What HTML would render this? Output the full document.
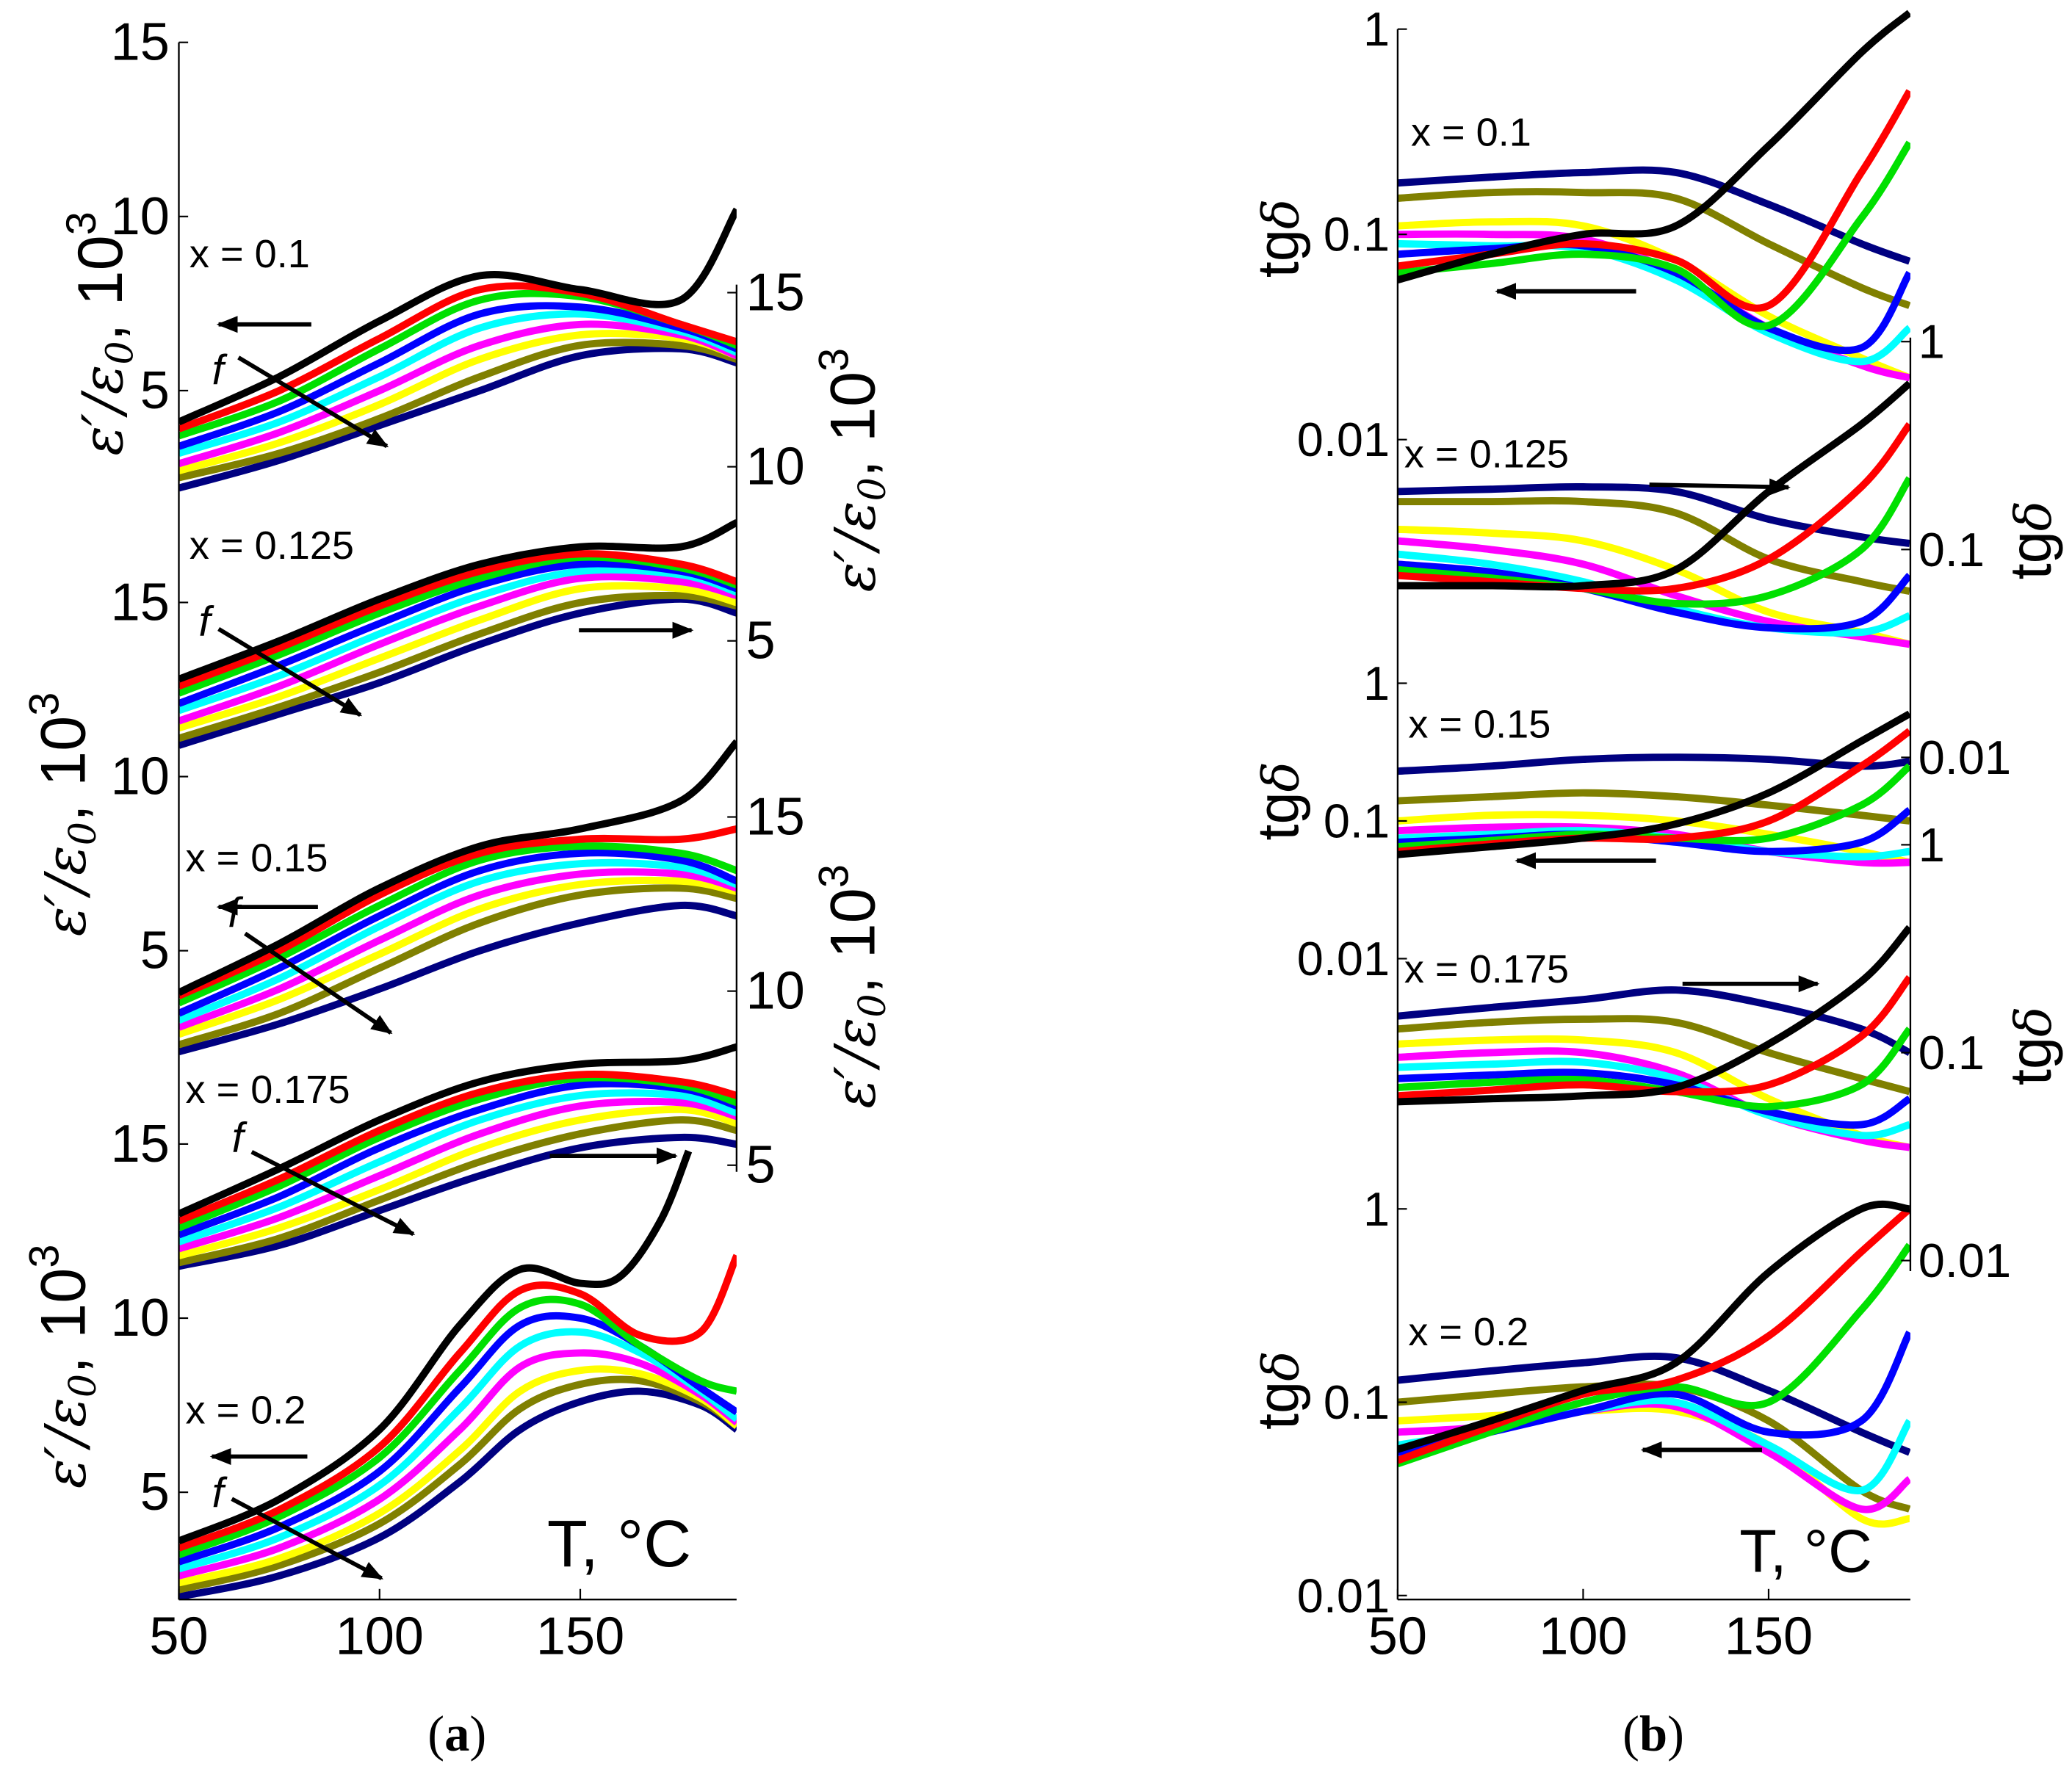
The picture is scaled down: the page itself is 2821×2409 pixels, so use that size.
<!DOCTYPE html>
<html><head><meta charset="utf-8"><style>
html,body{margin:0;padding:0;background:#fff;}
svg{display:block;}
text{font-family:"Liberation Sans Narrow","Liberation Sans",sans-serif;fill:#000;}
</style></head><body>
<svg id="fig" width="2821" height="2409" viewBox="0 0 1564 1336" preserveAspectRatio="none" xmlns="http://www.w3.org/2000/svg">
<defs>
<marker id="ah" viewBox="0 0 10 10" refX="9" refY="5" markerWidth="5" markerHeight="5" orient="auto"><path d="M0,1 L10,5 L0,9 Z" fill="#000"/></marker>
</defs>
<g id="marks"></g>
<g id="axes" stroke="#000" stroke-width="1.3" fill="none">
<line x1="135" y1="32" x2="135" y2="1208"/>
<line x1="135" y1="1208" x2="556" y2="1208"/>
<line x1="556" y1="215" x2="556" y2="885"/>
<line x1="1055" y1="22" x2="1055" y2="1208"/>
<line x1="1055" y1="1208" x2="1442" y2="1208"/>
<line x1="1442" y1="255" x2="1442" y2="960"/>
</g>
<g id="ticks" stroke="#000" stroke-width="1.2"></g>
<g id="labels"></g>
<g stroke="#000" stroke-width="3.2" marker-end="url(#ah)">
<line x1="235" y1="245" x2="165" y2="245"/>
<line x1="180" y1="270" x2="292" y2="337"/>
<line x1="165" y1="475" x2="272" y2="540"/>
<line x1="437" y1="476" x2="522" y2="476"/>
<line x1="240" y1="685" x2="165" y2="685"/>
<line x1="185" y1="705" x2="295" y2="780"/>
<line x1="190" y1="870" x2="312" y2="932"/>
<line x1="415" y1="873" x2="510" y2="873"/>
<line x1="232" y1="1100" x2="160" y2="1100"/>
<line x1="175" y1="1132" x2="288" y2="1192"/>
<line x1="1235" y1="220" x2="1130" y2="220"/>
<line x1="1245" y1="366" x2="1350" y2="368"/>
<line x1="1250" y1="650" x2="1145" y2="650"/>
<line x1="1270" y1="743" x2="1372" y2="743"/>
<line x1="1330" y1="1095" x2="1240" y2="1095"/>
</g>
<g font-size="32" font-style="italic">
<text x="160" y="290">f</text>
<text x="150" y="480">f</text>
<text x="172" y="700">f</text>
<text x="175" y="870">f</text>
<text x="160" y="1138">f</text>
</g>
<g font-size="30">
<text x="143" y="202">x = 0.1</text>
<text x="143" y="422">x = 0.125</text>
<text x="140" y="658">x = 0.15</text>
<text x="140" y="833">x = 0.175</text>
<text x="140" y="1075">x = 0.2</text>
<text x="1065" y="110">x = 0.1</text>
<text x="1060" y="353">x = 0.125</text>
<text x="1063" y="557">x = 0.15</text>
<text x="1060" y="742">x = 0.175</text>
<text x="1063" y="1016">x = 0.2</text>
</g>
<text x="413" y="1183" font-size="50">T, °C</text>
<text x="1313" y="1187" font-size="46">T, °C</text>
<text x="345" y="1322" font-size="38" text-anchor="middle" style="font-family:'Liberation Serif',serif">(<tspan font-weight="bold">a</tspan>)</text>
<text x="1248" y="1322" font-size="38" text-anchor="middle" style="font-family:'Liberation Serif',serif">(<tspan font-weight="bold">b</tspan>)</text>
</svg>
<script>
const T7=[50,75,100,125,150,175,189];
const T7b=[50,75,100,125,150,175,188];
const T5a=[50,75,100,120,135,150,165,180,189];
const T5aBlack=[50,75,100,120,135,150,160,170,177];
const a1=[[4.1,5.4,7.0,8.3,7.9,7.6,10.2],[3.9,5.0,6.5,7.9,7.8,6.9,6.4],[3.7,4.7,6.2,7.6,7.7,6.9,6.3],[3.4,4.4,5.8,7.2,7.4,6.8,6.2],[3.2,4.1,5.4,6.8,7.2,6.7,6.1],[2.9,3.8,5.0,6.3,6.9,6.6,6.0],[2.7,3.5,4.6,5.9,6.6,6.5,6.0],[2.5,3.2,4.2,5.4,6.3,6.3,5.9],[2.2,3.0,4.0,5.0,6.0,6.2,5.8]];
const a2=[[3.9,5.0,6.2,7.2,7.7,7.7,8.4],[3.7,4.8,6.0,7.0,7.5,7.2,6.7],[3.5,4.6,5.8,6.8,7.4,7.1,6.6],[3.2,4.3,5.5,6.6,7.2,7.0,6.5],[3.0,4.0,5.2,6.3,7.0,6.9,6.4],[2.7,3.7,4.9,6.0,6.8,6.7,6.3],[2.5,3.4,4.5,5.6,6.5,6.5,6.1],[2.2,3.1,4.1,5.2,6.1,6.3,6.0],[2.0,2.9,3.8,4.9,5.8,6.2,5.8]];
const a3=[[3.8,5.2,6.8,8.0,8.5,9.3,11.0],[3.7,5.0,6.6,7.8,8.2,8.2,8.5],[3.5,4.8,6.3,7.6,8.0,7.8,7.3],[3.2,4.5,6.0,7.3,7.8,7.6,7.0],[3.0,4.2,5.7,7.0,7.5,7.4,6.9],[2.8,3.9,5.3,6.6,7.2,7.2,6.8],[2.6,3.6,4.9,6.2,6.9,7.0,6.7],[2.3,3.2,4.5,5.8,6.6,6.8,6.5],[2.1,2.9,3.9,5.0,5.8,6.3,6.0]];
const a4=[[3.6,4.9,6.3,7.4,7.9,8.0,8.4],[3.4,4.6,6.0,7.1,7.6,7.4,7.0],[3.2,4.4,5.8,6.9,7.5,7.3,6.8],[3.0,4.1,5.5,6.6,7.3,7.2,6.7],[2.8,3.8,5.1,6.3,7.0,7.0,6.5],[2.6,3.5,4.7,5.9,6.7,6.8,6.4],[2.4,3.2,4.3,5.5,6.3,6.6,6.2],[2.2,2.9,4.0,5.1,5.9,6.3,6.0],[2.1,2.7,3.7,4.7,5.5,5.8,5.6]];
const a5Black=[3.6,4.8,6.8,9.8,11.4,11.0,11.2,12.8,14.8];
const a5=[null,[3.4,4.5,6.3,9.0,10.8,10.7,9.5,9.6,11.8],[3.2,4.3,6.0,8.5,10.3,10.4,9.2,8.2,7.9],[3.0,4.0,5.6,8.0,9.8,10.0,9.2,8.0,7.3],[2.8,3.7,5.2,7.4,9.2,9.6,9.0,7.9,7.1],[2.6,3.4,4.8,6.8,8.6,9.0,8.7,7.8,7.0],[2.4,3.1,4.4,6.2,7.9,8.5,8.4,7.7,6.9],[2.2,2.9,4.1,5.8,7.4,8.1,8.2,7.6,6.9],[2.0,2.6,3.7,5.3,6.8,7.6,7.9,7.5,6.8]];
const b1=[[0.06,0.08,0.1,0.11,0.27,0.77,1.2],[0.07,0.08,0.09,0.075,0.045,0.2,0.5],[0.065,0.072,0.08,0.068,0.036,0.12,0.28],[0.08,0.085,0.088,0.065,0.035,0.028,0.065],[0.09,0.088,0.085,0.06,0.033,0.024,0.035],[0.1,0.1,0.095,0.065,0.035,0.023,0.02],[0.11,0.115,0.11,0.075,0.04,0.025,0.02],[0.15,0.16,0.16,0.15,0.09,0.055,0.045],[0.178,0.19,0.2,0.2,0.14,0.09,0.074]];
const b2=[[0.067,0.067,0.067,0.08,0.19,0.4,0.63],[0.075,0.07,0.065,0.065,0.09,0.2,0.4],[0.08,0.073,0.065,0.055,0.06,0.1,0.22],[0.085,0.078,0.065,0.05,0.042,0.045,0.075],[0.095,0.085,0.07,0.052,0.042,0.04,0.048],[0.11,0.1,0.085,0.06,0.045,0.038,0.035],[0.125,0.12,0.11,0.08,0.05,0.04,0.035],[0.17,0.17,0.17,0.15,0.09,0.07,0.063],[0.19,0.195,0.2,0.19,0.14,0.115,0.107]];
const b3=[[0.057,0.065,0.075,0.095,0.16,0.38,0.6],[0.06,0.068,0.075,0.075,0.1,0.25,0.45],[0.065,0.072,0.08,0.075,0.075,0.13,0.25],[0.07,0.075,0.08,0.07,0.06,0.07,0.12],[0.075,0.08,0.085,0.075,0.06,0.055,0.06],[0.085,0.09,0.09,0.08,0.06,0.05,0.05],[0.1,0.11,0.11,0.1,0.08,0.06,0.05],[0.14,0.15,0.16,0.15,0.13,0.11,0.1],[0.23,0.25,0.28,0.29,0.28,0.25,0.27]];
const b4=[[0.058,0.06,0.062,0.068,0.11,0.22,0.4],[0.062,0.066,0.07,0.065,0.07,0.12,0.23],[0.068,0.072,0.074,0.065,0.055,0.07,0.13],[0.075,0.078,0.08,0.07,0.052,0.045,0.06],[0.085,0.088,0.09,0.075,0.05,0.04,0.045],[0.095,0.1,0.1,0.08,0.05,0.038,0.035],[0.11,0.115,0.115,0.1,0.06,0.04,0.035],[0.13,0.14,0.145,0.14,0.1,0.075,0.065],[0.15,0.165,0.18,0.2,0.17,0.13,0.1]];
const b5=[[0.057,0.08,0.115,0.16,0.47,1.0,1.0],[0.05,0.075,0.11,0.13,0.22,0.6,1.0],[0.048,0.07,0.1,0.12,0.1,0.3,0.65],[0.055,0.07,0.09,0.11,0.07,0.08,0.23],[0.06,0.072,0.09,0.1,0.06,0.035,0.08],[0.07,0.075,0.09,0.095,0.055,0.028,0.04],[0.08,0.085,0.09,0.09,0.06,0.025,0.025],[0.1,0.11,0.12,0.12,0.08,0.035,0.028],[0.13,0.145,0.16,0.17,0.115,0.07,0.055]];
const seriesNames=['black','red','green','blue','cyan','magenta','yellow','olive','navy'];
const linTicks=[5,10,15];
const linTickLabels=['5','10','15'];
const logTicks=[0.01,0.1,1];
const logTickLabels=['0.01','0.1','1'];
const xTicks=[50,100,150];

const COL=['#000000','#ff0000','#00e000','#0000ff','#00ffff','#ff00ff','#ffff00','#808000','#000080'];
const NS='http://www.w3.org/2000/svg';
const marks=document.getElementById('marks');
const xa=t=>135+(t-50)*3.03;
const xb=t=>1055+(t-50)*2.8;
const linY=y5=>v=>y5-(v-5)*26.3;
const logY=(y1,dec)=>v=>y1-Math.log10(v)*dec;
function smooth(pts){
  let d='M'+pts[0][0].toFixed(1)+','+pts[0][1].toFixed(1);
  for(let i=0;i<pts.length-1;i++){
    const p0=pts[Math.max(0,i-1)],p1=pts[i],p2=pts[i+1],p3=pts[Math.min(pts.length-1,i+2)];
    const c1=[p1[0]+(p2[0]-p0[0])/6,p1[1]+(p2[1]-p0[1])/6];
    const c2=[p2[0]-(p3[0]-p1[0])/6,p2[1]-(p3[1]-p1[1])/6];
    d+=' C'+c1[0].toFixed(1)+','+c1[1].toFixed(1)+' '+c2[0].toFixed(1)+','+c2[1].toFixed(1)+' '+p2[0].toFixed(1)+','+p2[1].toFixed(1);
  }
  return d;
}
let clipN=0;
function clip(x,y,w,h){
  const defs=document.querySelector('defs');
  const c=document.createElementNS(NS,'clipPath');c.id='c'+(clipN++);
  const r=document.createElementNS(NS,'rect');
  r.setAttribute('x',x);r.setAttribute('y',y);r.setAttribute('width',w);r.setAttribute('height',h);
  c.appendChild(r);defs.appendChild(c);return 'url(#'+c.id+')';
}
function drawPanel(name,data,T,sx,sy,cp,extra){
  const g=document.createElementNS(NS,'g');
  
  
  g.setAttribute('clip-path',cp);
  marks.appendChild(g);
  for(let k=8;k>=0;k--){
    let vals=data[k],tt=T;
    if(!vals){vals=extra.vals;tt=extra.T;}
    const pts=vals.map((v,i)=>[sx(tt[i]),sy(v)]);
    const p=document.createElementNS(NS,'path');
    p.setAttribute('d',smooth(pts));
    p.setAttribute('fill','none');
    p.setAttribute('stroke',COL[k]);
    p.setAttribute('stroke-width','5.5');
    p.setAttribute('stroke-linejoin','round');
    
    
    g.appendChild(p);
  }
}
drawPanel('panel-a-x0.1',a1,T7,xa,linY(295),clip(135,0,421,380));
drawPanel('panel-a-x0.125',a2,T7,xa,linY(484),clip(135,380,421,200));
drawPanel('panel-a-x0.15',a3,T7,xa,linY(718),clip(135,540,421,260));
drawPanel('panel-a-x0.175',a4,T7,xa,linY(880),clip(135,780,421,190));
drawPanel('panel-a-x0.2',a5,T5a,xa,linY(1127),clip(135,866,421,342),{vals:a5Black,T:T5aBlack});
drawPanel('panel-b-x0.1',b1,T7b,xb,logY(22,155),clip(1055,0,387,300));
drawPanel('panel-b-x0.125',b2,T7b,xb,logY(258,157),clip(1055,280,387,240));
drawPanel('panel-b-x0.15',b3,T7b,xb,logY(516,104),clip(1055,505,387,180));
drawPanel('panel-b-x0.175',b4,T7b,xb,logY(638,157),clip(1055,685,387,210));
drawPanel('panel-b-x0.2',b5,T7b,xb,logY(913,146),clip(1055,895,387,313));

const ticks=document.getElementById('ticks');
const labels=document.getElementById('labels');
function tick(x1,y1,x2,y2){const l=document.createElementNS(NS,'line');l.setAttribute('x1',x1);l.setAttribute('y1',y1);l.setAttribute('x2',x2);l.setAttribute('y2',y2);ticks.appendChild(l);}
function label(txt,x,y,anchor,size,nm){
  const t=document.createElementNS(NS,'text');
  t.setAttribute('x',x);t.setAttribute('y',y);t.setAttribute('text-anchor',anchor);
  t.setAttribute('font-size',size);t.setAttribute('dominant-baseline','central');
  t.textContent=txt;
  
  
  labels.appendChild(t);
}
[[295,'left'],[718,'left'],[1127,'left'],[484,'right'],[880,'right']].forEach(([y5,side],j)=>{
  const sy=linY(y5);
  linTicks.forEach((v,i)=>{
    const y=sy(v);
    if(side==='left'){tick(135,y,142,y);label(linTickLabels[i],128,y,'end',40,'a-left-tick-'+j+'-'+i);}
    else{tick(556,y,549,y);label(linTickLabels[i],563,y,'start',40,'a-right-tick-'+j+'-'+i);}
  });
});
[[22,155,'left'],[516,104,'left'],[913,146,'left'],[258,157,'right'],[638,157,'right']].forEach(([y1,dec,side],j)=>{
  const sy=logY(y1,dec);
  logTicks.forEach((v,i)=>{
    const y=sy(v);
    if(side==='left'){tick(1055,y,1062,y);label(logTickLabels[i],1049,y,'end',36,'b-left-tick-'+j+'-'+i);}
    else{tick(1442,y,1435,y);label(logTickLabels[i],1448,y,'start',36,'b-right-tick-'+j+'-'+i);}
  });
});
xTicks.forEach((t,i)=>{
  tick(xa(t),1208,xa(t),1200);label(String(t),xa(t),1236,'middle',40,'a-x-tick-'+i);
  tick(xb(t),1208,xb(t),1200);label(String(t),xb(t),1236,'middle',40,'b-x-tick-'+i);
});
function ytitle(x,y,nm,isTg){
  const t=document.createElementNS(NS,'text');
  t.setAttribute('transform','translate('+x+','+y+') rotate(-90)');
  t.setAttribute('text-anchor','middle');t.setAttribute('font-size',isTg?'44':'48');
  if(isTg){t.innerHTML='tg<tspan font-style="italic" style="font-family:\'DejaVu Serif\',serif" font-size="38">δ</tspan>';}
  else{t.innerHTML='<tspan font-style="italic" style="font-family:\'DejaVu Serif\',serif" font-size="42">ε′/ε</tspan><tspan font-style="italic" font-size="28" dy="8" style="font-family:\'DejaVu Serif\',serif">0</tspan><tspan dy="-8">, 10</tspan><tspan font-size="32" dy="-20">3</tspan>';}
  
  
  labels.appendChild(t);
}
ytitle(92,252,'y-axis-title-a1',false);
ytitle(64,615,'y-axis-title-a3',false);
ytitle(64,1032,'y-axis-title-a5',false);
ytitle(660,355,'y-axis-title-a2',false);
ytitle(660,745,'y-axis-title-a4',false);
ytitle(980,180,'y-axis-title-b1',true);
ytitle(980,605,'y-axis-title-b3',true);
ytitle(980,1050,'y-axis-title-b5',true);
ytitle(1548,408,'y-axis-title-b2',true);
ytitle(1548,790,'y-axis-title-b4',true);
</script>
</body></html>
